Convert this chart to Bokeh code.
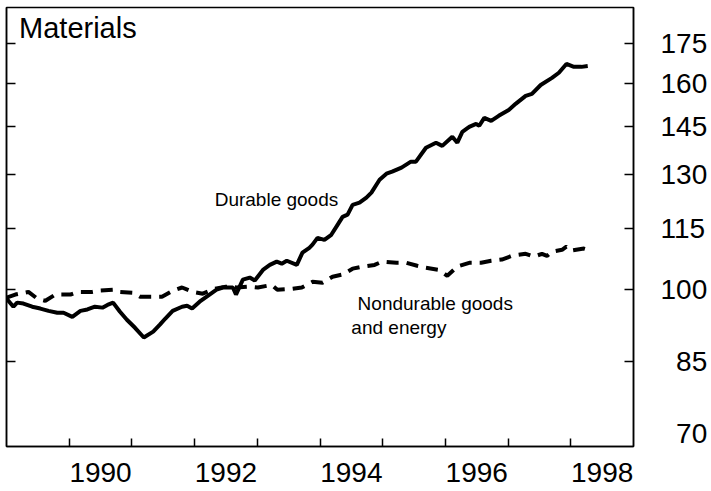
from bokeh.plotting import figure
from bokeh.models import FixedTicker, LinearAxis, Range1d, Label
from bokeh.embed import file_html
from bokeh.resources import INLINE

# ---- data ----
durable_t = [1989.00, 1989.11, 1989.17, 1989.27, 1989.41, 1989.54, 1989.67, 1989.81, 1989.91,
             1990.05, 1990.18, 1990.29, 1990.41, 1990.53, 1990.61, 1990.70, 1990.81, 1990.92,
             1991.05, 1991.19, 1991.34, 1991.45, 1991.53, 1991.65, 1991.80, 1991.88, 1991.96,
             1992.08, 1992.21, 1992.35, 1992.45, 1992.61, 1992.66, 1992.77, 1992.88, 1992.96,
             1993.09, 1993.20, 1993.31, 1993.39, 1993.47, 1993.63, 1993.72, 1993.83, 1993.88,
             1993.96, 1994.07, 1994.18, 1994.28, 1994.36, 1994.44, 1994.52, 1994.63, 1994.74,
             1994.82, 1994.95, 1995.06, 1995.15, 1995.30, 1995.45, 1995.53, 1995.69, 1995.85,
             1995.95, 1996.11, 1996.19, 1996.27, 1996.38, 1996.49, 1996.54, 1996.62, 1996.73,
             1996.85, 1997.01, 1997.12, 1997.28, 1997.38, 1997.52, 1997.70, 1997.81, 1997.93,
             1998.05, 1998.17, 1998.27]
durable_v = [98.0, 96.2, 97.1, 96.9, 96.2, 95.8, 95.3, 94.9, 94.9,
             94.0, 95.3, 95.6, 96.2, 96.0, 96.6, 97.1, 95.1, 93.4,
             91.7, 89.7, 90.9, 92.4, 93.6, 95.3, 96.2, 96.4, 95.8,
             97.3, 98.6, 100.0, 100.5, 100.5, 98.9, 102.3, 102.8, 102.1,
             104.6, 105.8, 106.6, 106.1, 106.8, 105.8, 108.8, 110.0, 110.8,
             112.5, 112.0, 113.3, 115.9, 118.0, 118.6, 121.3, 121.9, 123.3,
             124.7, 128.4, 130.2, 130.8, 132.0, 133.8, 133.8, 138.1, 139.7,
             138.7, 141.6, 139.7, 143.2, 144.8, 145.8, 145.2, 147.8, 146.8,
             148.5, 150.5, 152.6, 155.4, 156.1, 159.3, 161.9, 163.8, 167.1,
             166.0, 166.0, 166.3]

nondurable_t = [1989.00, 1989.14, 1989.35, 1989.49, 1989.62, 1989.78, 1990.02, 1990.14,
                1990.37, 1990.49, 1990.73, 1990.81, 1991.02, 1991.13, 1991.34, 1991.48,
                1991.66, 1991.80, 1991.97, 1992.13, 1992.32, 1992.50, 1992.67, 1992.88,
                1993.01, 1993.23, 1993.32, 1993.55, 1993.71, 1993.88, 1994.04, 1994.20,
                1994.36, 1994.52, 1994.68, 1994.87, 1994.99, 1995.22, 1995.38, 1995.55,
                1995.69, 1995.90, 1996.03, 1996.19, 1996.38, 1996.57, 1996.73, 1996.90,
                1997.06, 1997.28, 1997.41, 1997.54, 1997.62, 1997.70, 1997.86, 1997.93,
                1998.01, 1998.21, 1998.28]
nondurable_v = [98.2, 98.9, 99.5, 98.0, 97.5, 98.9, 98.9, 99.5,
                99.5, 99.8, 100.0, 99.5, 99.3, 98.4, 98.4, 98.4,
                99.8, 100.5, 99.5, 99.1, 100.2, 100.7, 100.5, 100.7,
                100.5, 101.1, 100.0, 100.2, 100.5, 101.8, 101.6, 103.0,
                103.5, 104.9, 105.4, 105.8, 106.6, 106.3, 106.3, 105.6,
                105.1, 104.6, 103.2, 105.4, 106.3, 106.3, 106.8, 107.1,
                108.0, 108.5, 107.8, 108.5, 108.0, 109.0, 109.5, 110.3,
                109.3, 109.8, 109.5]

y_tick_values = [85, 100, 115, 130, 145, 160, 175]
y_tick_labels = ["\u00a0\u00a085", "100", "115", "130", "145", "160", "175"]
y_bottom_label = "\u00a0\u00a070"
y_bottom_label_pos = 72.1      # the "70" label sits just above the bottom edge
x_tick_years = [1990, 1991, 1992, 1993, 1994, 1995, 1996, 1997, 1998]
x_label_years = [1990, 1992, 1994, 1996, 1998]

FONT = "Liberation Sans"
X0, X1 = 1989, 1999

p = figure(width=710, height=490,
           x_range=Range1d(X0, X1), y_range=Range1d(70, 190),
           y_axis_type="log", x_axis_location=None, y_axis_location=None,
           output_backend="svg", toolbar_location=None,
           min_border_left=6, min_border_top=7, min_border_right=75, min_border_bottom=44)
p.grid.visible = False
p.background_fill_color = "white"
p.border_fill_color = "white"
p.outline_line_color = "black"
p.outline_line_width = 1.5
p.outline_line_alpha = 1.0

# bottom axis: tick marks at year boundaries, labels centred in the year
xax = LinearAxis(
    ticker=FixedTicker(ticks=[y + 0.5 for y in x_label_years], minor_ticks=x_tick_years),
    major_label_overrides={y + 0.5: str(y) for y in x_label_years},
    major_tick_line_color=None,
    minor_tick_in=8, minor_tick_out=0, minor_tick_line_width=1.5, minor_tick_line_color="black",
    axis_line_width=1.5, axis_line_color="black",
    major_label_text_font=FONT, major_label_text_font_size="28px",
    major_label_text_color="black", major_label_standoff=10)
p.add_layout(xax, "below")

# left axis: inward tick marks only
lax = LinearAxis(
    ticker=FixedTicker(ticks=[], minor_ticks=y_tick_values),
    major_tick_line_color=None,
    minor_tick_in=9, minor_tick_out=0, minor_tick_line_width=1.5, minor_tick_line_color="black",
    axis_line_width=1.5, axis_line_color="black",
    major_label_standoff=0)
p.add_layout(lax, "left")

# right axis: inward tick marks + value labels
label_pos = [y_bottom_label_pos] + y_tick_values
overrides = {y_bottom_label_pos: y_bottom_label}
overrides.update({v: t for v, t in zip(y_tick_values, y_tick_labels)})
rax = LinearAxis(
    ticker=FixedTicker(ticks=label_pos, minor_ticks=y_tick_values),
    major_label_overrides=overrides,
    major_tick_line_color=None,
    minor_tick_in=9, minor_tick_out=0, minor_tick_line_width=1.5, minor_tick_line_color="black",
    axis_line_width=1.5, axis_line_color="black",
    major_label_text_font=FONT, major_label_text_font_size="28px",
    major_label_text_color="black", major_label_standoff=21)
p.add_layout(rax, "right")

# series
p.line(durable_t, durable_v, line_color="black", line_width=4)
p.line(nondurable_t, nondurable_v, line_color="black", line_width=4, line_dash="12 8")

# texts
p.add_layout(Label(x=1989.2, y=181.4, text="Materials", text_font=FONT, text_font_size="29px",
                   text_baseline="alphabetic", text_color="black"))
p.add_layout(Label(x=1992.32, y=122.7, text="Durable goods", text_font=FONT, text_font_size="19px",
                   text_baseline="alphabetic", text_color="black"))
p.add_layout(Label(x=1994.60, y=96.9, text="Nondurable goods", text_font=FONT, text_font_size="19px",
                   text_baseline="alphabetic", text_color="black"))
p.add_layout(Label(x=1994.50, y=91.7, text="and energy", text_font=FONT, text_font_size="19px",
                   text_baseline="alphabetic", text_color="black"))

open("out.html", "w").write(file_html(p, INLINE))
